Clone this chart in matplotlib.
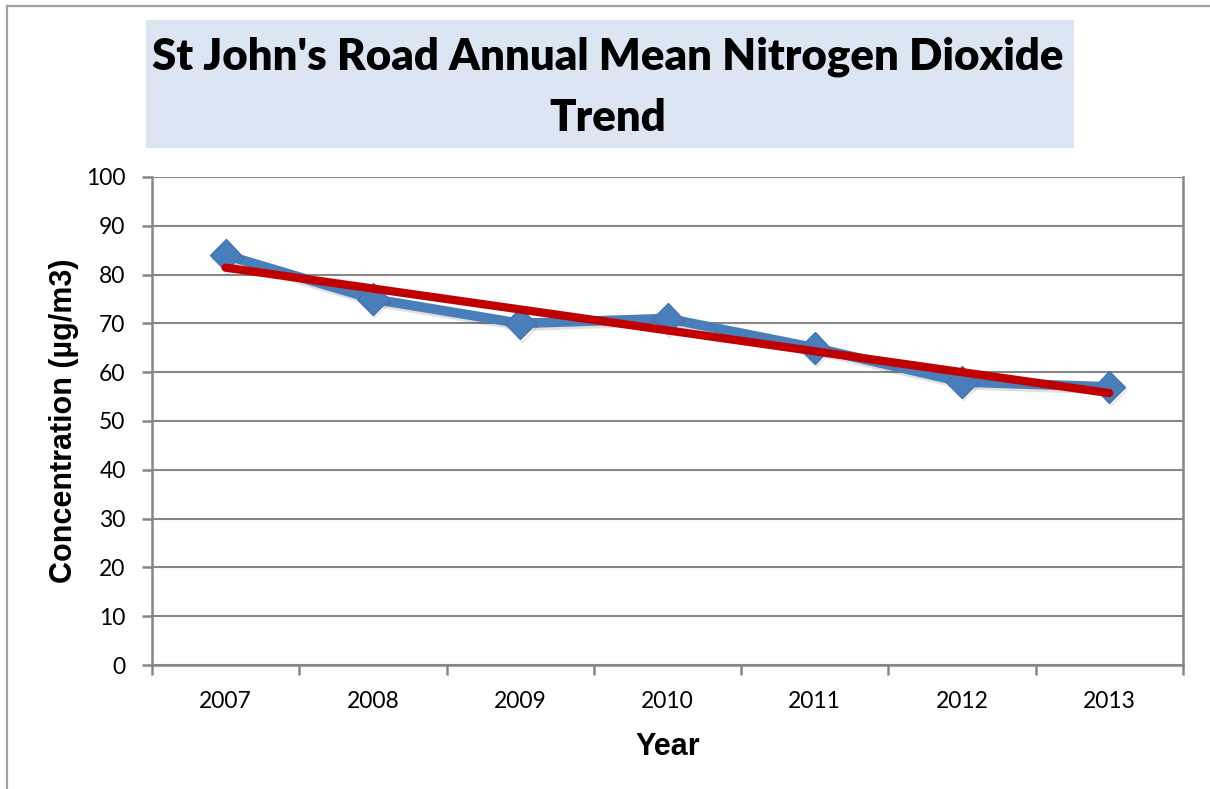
import numpy as np
import matplotlib.pyplot as plt
import matplotlib.patheffects as pe
from matplotlib.patches import Rectangle
from matplotlib.lines import Line2D

# Datos
years = ['2007', '2008', '2009', '2010', '2011', '2012', '2013']
no2 = [84, 75, 70, 71, 65, 58, 57]

x = np.arange(len(years))
# Linea de tendencia lineal (como en Excel)
slope, intercept = np.polyfit(x, no2, 1)
trend = slope * x + intercept

W, H = 1210, 789
fig = plt.figure(figsize=(W / 100, H / 100), dpi=100)

# Borde exterior del grafico (izquierda y arriba)
fig.add_artist(Line2D([7 / W, 7 / W], [0, 1 - 6 / H], color='#a0a0a0', lw=1.6))
fig.add_artist(Line2D([7 / W, 1], [1 - 6 / H, 1 - 6 / H], color='#a0a0a0', lw=1.6))

# Caja del titulo
fig.add_artist(Rectangle((146 / W, 1 - 148 / H), 928 / W, 128 / H,
                         transform=fig.transFigure, facecolor='#dce6f2', edgecolor='none'))
fig.text(608 / W, 1 - 87 / H, "St John's Road Annual Mean Nitrogen Dioxide\nTrend",
         ha='center', va='center', fontsize=31.5, fontweight='heavy',
         family='Lato', linespacing=1.65)

ax = fig.add_axes([152 / W, 1 - 665 / H, 1031 / W, 488 / H])

shadow = [pe.SimpleLineShadow(offset=(1, -2), shadow_color='#000000', alpha=0.12), pe.Normal()]
ax.plot(x, no2, color='#4a7ebb', lw=7, marker='D', markersize=16,
        markerfacecolor='#4a7ebb', markeredgecolor='#4072b0', markeredgewidth=1,
        solid_joinstyle='round', path_effects=shadow, zorder=3)
ax.plot(x, trend, color='#c00000', lw=6, solid_capstyle='round', zorder=4)

ax.set_xlim(-0.5, len(years) - 0.5)
ax.set_ylim(0, 100)
ax.set_yticks(range(0, 101, 10))
ax.set_xticks(x)
ax.set_xticklabels(years)
ax.set_xticks(np.arange(-0.5, len(years), 1), minor=True)

ax.yaxis.grid(True, color='#868686', lw=1.5)
ax.set_axisbelow(True)
for s in ax.spines.values():
    s.set_color('#868686')
    s.set_linewidth(1.8)
ax.spines['top'].set_visible(False)

ax.tick_params(axis='x', which='major', length=0, pad=19, labelsize=16.5)
ax.tick_params(axis='x', which='minor', length=7, width=1.8, color='#868686')
ax.tick_params(axis='y', length=7, width=1.8, color='#868686', pad=12, labelsize=16.5)
for lab in ax.get_xticklabels() + ax.get_yticklabels():
    lab.set_family('Lato')

ax.set_xlabel('Year', fontsize=22, fontweight='bold', family='Liberation Sans', labelpad=14)
ax.set_ylabel('Concentration (µg/m3)', fontsize=22, fontweight='bold',
              family='Liberation Sans', labelpad=5)

fig.savefig('out.png', dpi=100)
